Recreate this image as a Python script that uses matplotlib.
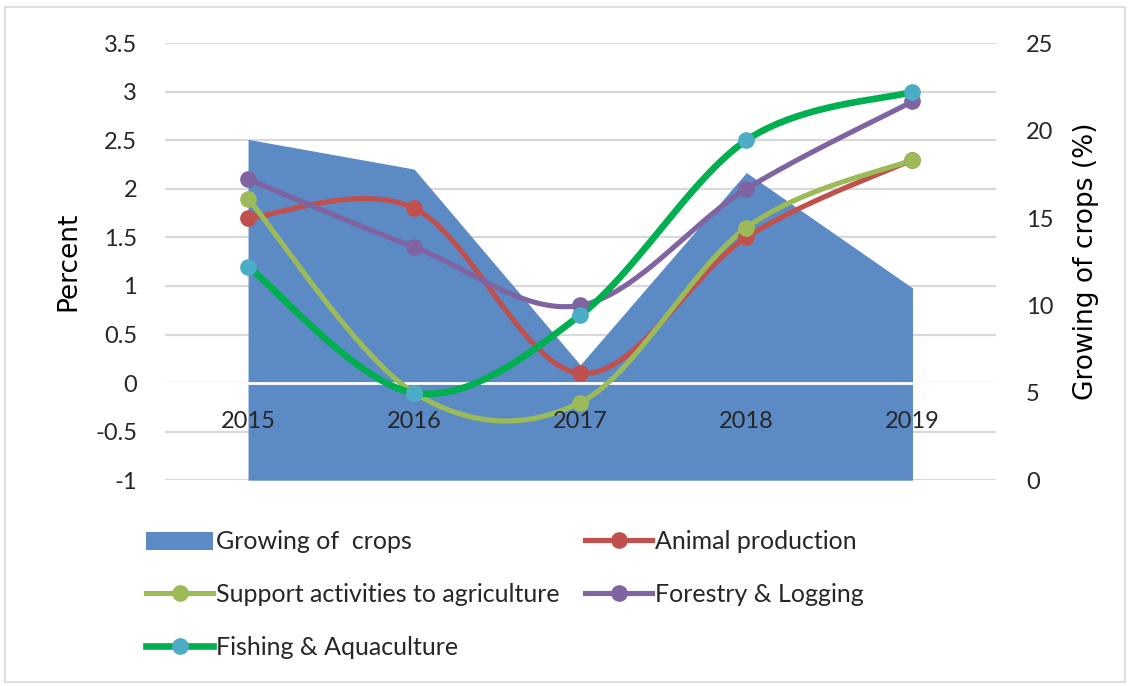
import numpy as np
import matplotlib
matplotlib.use("Agg")
import matplotlib.pyplot as plt
from matplotlib.patches import Patch, Rectangle
from matplotlib.lines import Line2D

years = ["2015", "2016", "2017", "2018", "2019"]

# Share of growing of crops (right axis, %)
growing_of_crops = [19.5, 17.8, 6.6, 17.6, 11.0]

# Growth rates of the other activities (left axis, percent)
animal_production = [1.7, 1.8, 0.1, 1.5, 2.3]
support_activities = [1.9, -0.1, -0.2, 1.6, 2.3]
forestry_logging = [2.1, 1.4, 0.8, 2.0, 2.9]
fishing_aquaculture = [1.2, -0.1, 0.7, 2.5, 3.0]

left_ticks = [-1, -0.5, 0, 0.5, 1, 1.5, 2, 2.5, 3, 3.5]
left_tick_labels = ["-1", "-0.5", "0", "0.5", "1", "1.5", "2", "2.5", "3", "3.5"]
right_ticks = [0, 5, 10, 15, 20, 25]

TICK_FONT = ["Lato", "DejaVu Sans"]
LABEL_FONT = ["DejaVu Sans"]
TEXT_COLOR = "#262626"


def smooth(xs, ys, n=40):
    """Catmull-Rom style Bezier smoothing through every point."""
    xs = np.asarray(xs, float)
    ys = np.asarray(ys, float)
    px = np.concatenate([[xs[0]], xs, [xs[-1]]])
    py = np.concatenate([[ys[0]], ys, [ys[-1]]])
    out_x, out_y = [], []
    t = np.linspace(0, 1, n)
    for i in range(1, len(px) - 2):
        p0x, p0y = px[i], py[i]
        p3x, p3y = px[i + 1], py[i + 1]
        b1x = p0x + (px[i + 1] - px[i - 1]) / 6
        b1y = p0y + (py[i + 1] - py[i - 1]) / 6
        b2x = p3x - (px[i + 2] - px[i]) / 6
        b2y = p3y - (py[i + 2] - py[i]) / 6
        bx = ((1 - t) ** 3 * p0x + 3 * (1 - t) ** 2 * t * b1x
              + 3 * (1 - t) * t ** 2 * b2x + t ** 3 * p3x)
        by = ((1 - t) ** 3 * p0y + 3 * (1 - t) ** 2 * t * b1y
              + 3 * (1 - t) * t ** 2 * b2y + t ** 3 * p3y)
        out_x.extend(bx)
        out_y.extend(by)
    return np.array(out_x), np.array(out_y)


fig = plt.figure(figsize=(11.3, 6.86), dpi=100)
fig.patches.append(Rectangle((0.004, 0.006), 0.992, 0.984, transform=fig.transFigure,
                             fill=False, edgecolor="#D9D9D9", linewidth=1.2))

rect = [0.146, 0.300, 0.735, 0.637]
ax_base = fig.add_axes(rect)
ax_area = ax_base.twinx()
ax_lines = ax_base.twinx()

x = np.arange(len(years))

# Base axes: left scale and gridlines
ax_base.set_xlim(-0.5, len(years) - 0.5)
ax_base.set_ylim(-1, 3.5)
ax_base.set_yticks(left_ticks)
ax_base.set_yticklabels(left_tick_labels, family=TICK_FONT, fontsize=17, color=TEXT_COLOR)
ax_base.set_xticks([])
ax_base.grid(axis="y", color="#D9D9D9", linewidth=1.6)
ax_base.tick_params(axis="y", length=0, pad=20)
for s in ax_base.spines.values():
    s.set_visible(False)
ax_base.set_ylabel("Percent", family=LABEL_FONT, fontsize=19, labelpad=10, color="black")

# Area on the right scale
ax_area.fill_between(x, 0, growing_of_crops, color="#5B8AC5", linewidth=0)
ax_area.set_ylim(0, 25)
ax_area.set_yticks(right_ticks)
ax_area.set_yticklabels([str(v) for v in right_ticks], family=TICK_FONT, fontsize=17,
                        color=TEXT_COLOR)
ax_area.tick_params(axis="y", length=0, pad=22)
for s in ax_area.spines.values():
    s.set_visible(False)
ax_area.set_ylabel("Growing of crops (%)", family=LABEL_FONT, fontsize=19, labelpad=14,
                   color="black")
ax_area.patch.set_visible(False)

# Lines on the left scale
ax_lines.set_ylim(-1, 3.5)
ax_lines.set_yticks([])
ax_lines.patch.set_visible(False)
for s in ax_lines.spines.values():
    s.set_visible(False)
ax_lines.axhline(0, color="white", linewidth=2, zorder=1)

series = [
    (animal_production, "#C0504D", "#C0504D", 3.7, "Animal production"),
    (support_activities, "#9BBB59", "#9BBB59", 3.7, "Support activities to agriculture"),
    (forestry_logging, "#8064A2", "#8064A2", 3.7, "Forestry & Logging"),
    (fishing_aquaculture, "#00B050", "#4BACC6", 4.8, "Fishing & Aquaculture"),
]
handles = [Patch(facecolor="#5B8AC5", edgecolor="none", label="Growing of  crops")]
for vals, lc, mc, lw, name in series:
    sx, sy = smooth(x, vals)
    ax_lines.plot(sx, sy, color=lc, linewidth=lw, solid_capstyle="round", zorder=3)
    ax_lines.plot(x, vals, linestyle="none", marker="o", markersize=11,
                  markerfacecolor=mc, markeredgecolor=mc, zorder=4)
    handles.append(Line2D([0], [0], color=lc, linewidth=lw, marker="o", markersize=11,
                          markerfacecolor=mc, markeredgecolor=mc, label=name))

# Category labels sit just below the zero line
for xi, yr in zip(x, years):
    ax_lines.annotate(yr, (xi, 0), xytext=(0, -38), textcoords="offset pixels",
                      ha="center", va="center", family=TICK_FONT, fontsize=17,
                      color=TEXT_COLOR, zorder=5)

order = [0, 2, 4, 1, 3]
leg = fig.legend([handles[i] for i in order], [handles[i].get_label() for i in order],
                 loc="upper left", bbox_to_anchor=(0.118, 0.245), ncol=2, frameon=False,
                 prop={"family": TICK_FONT, "size": 18}, handlelength=2.7,
                 handleheight=0.75, handletextpad=0.12, columnspacing=1.0,
                 labelspacing=1.2, borderpad=0.0)
for t in leg.get_texts():
    t.set_color(TEXT_COLOR)

fig.savefig("out.png", dpi=100)
